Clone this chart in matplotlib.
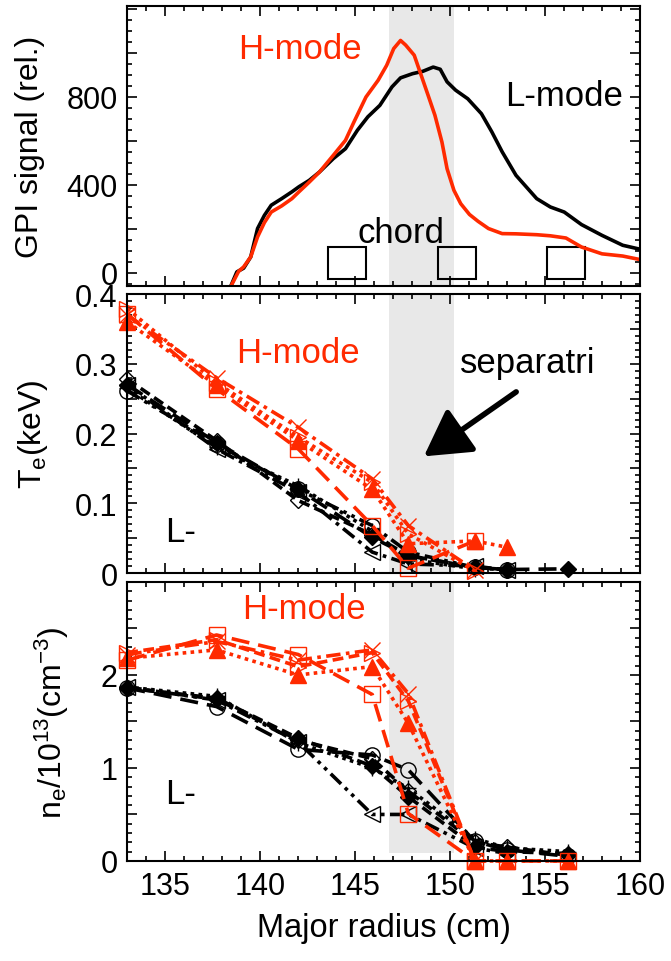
import matplotlib
matplotlib.use('Agg')
import matplotlib.pyplot as plt
from matplotlib.patches import Rectangle
from matplotlib.ticker import MultipleLocator, FuncFormatter

plt.rcParams['font.family'] = ['Liberation Sans', 'DejaVu Sans']
plt.rcParams['mathtext.default'] = 'regular'

RED = '#ff2a00'

# GPI signal profiles (top panel)
gpi_l_r = [138.40, 138.77, 139.13, 139.50, 139.86, 140.22, 140.58, 141.13, 141.67, 142.04,
           142.58, 143.12, 143.85, 144.49, 145.12, 145.67, 146.30, 146.94, 147.39, 148.02,
           148.57, 149.11, 149.48, 149.84, 150.29, 150.93, 151.65, 152.20, 152.74, 153.47,
           154.56, 155.28, 156.01, 156.92, 158.00, 159.09, 160.00]
gpi_l = [-70, 5, 22, 73, 202, 262, 308, 338, 369, 392,
         421, 459, 520, 565, 649, 710, 762, 846, 887, 906,
         917, 936, 926, 869, 831, 792, 724, 641, 551, 444,
         338, 300, 277, 220, 171, 126, 108]
gpi_h_r = [138.40, 138.86, 139.13, 139.50, 139.86, 140.22, 140.58, 141.13, 141.67, 142.04,
           142.58, 143.12, 143.85, 144.49, 144.94, 145.57, 146.21, 146.66, 147.03, 147.39,
           147.66, 148.11, 148.48, 148.84, 149.20, 149.57, 149.84, 150.20, 150.56, 151.02,
           151.47, 152.02, 152.74, 153.47, 154.56, 155.28, 156.10, 156.92, 158.00, 159.09,
           160.00]
gpi_h = [-70, 7, 28, 73, 164, 229, 277, 305, 338, 369,
         413, 459, 535, 603, 687, 800, 876, 944, 1020, 1057,
         1036, 990, 898, 808, 717, 595, 474, 376, 315, 266,
         235, 202, 179, 178, 174, 169, 159, 118, 87, 77,
         61]
chord_r = [144.55, 150.35, 156.10]

# Thomson scattering radii
r_pts = [133.0, 137.7, 142.0, 145.9, 147.8, 151.3, 153.0, 156.2]

# Te (keV)
te_h_sq = [0.371, 0.264, 0.178, 0.068, 0.007, 0.046]
te_h_rtri = [0.379, 0.273, 0.195, 0.130, 0.056, 0.003]
te_h_tri = [0.360, 0.269, 0.190, 0.120, 0.042, 0.046, 0.037]
te_h_x = [0.370, 0.280, 0.209, 0.135, 0.068, 0.004]
te_l_circ = [0.261, 0.185, 0.120, 0.068, 0.030, 0.008, 0.004]
te_l_dia = [0.278, 0.190, 0.104, 0.055, 0.025, 0.008, 0.005]
te_l_ltri = [0.270, 0.178, 0.116, 0.030, 0.013, 0.010, 0.004]
te_l_fdia = [0.270, 0.187, 0.120, 0.051, 0.025, 0.008, 0.005, 0.006]
te_l_plus = [0.265, 0.180, 0.125, 0.060, 0.020, 0.006]

# ne (1e13 cm^-3)
ne_h_sq = [2.16, 2.43, 2.22, 1.79, 0.51, 0.0, 0.0, 0.0]
ne_h_rtri = [2.24, 2.38, 2.09, 2.24, 1.72, 0.0]
ne_h_x = [2.22, 2.36, 2.16, 2.27, 1.80, 0.0]
ne_h_tri = [2.18, 2.27, 2.00, 2.09, 1.48, 0.0, 0.0, 0.0]
ne_l_circ = [1.86, 1.66, 1.20, 1.14, 0.98, 0.21, 0.12, 0.05]
ne_l_ltri = [1.87, 1.73, 1.28, 0.50, 0.50, 0.14, 0.08]
ne_l_fdia = [1.86, 1.75, 1.32, 1.02, 0.69, 0.15, 0.10, 0.08]
ne_l_plus = [1.87, 1.77, 1.27, 1.00, 0.78, 0.24, 0.14, 0.10]
ne_l_dia = [1.86, 1.74, 1.30, 1.10, 0.75, 0.20, 0.15, 0.06]

sep_lo, sep_hi = 146.8, 150.2

LONG = (0, (5, 2.5))
DASH = (0, (3, 1.5))
DOT = (0, (1, 1.2))
DASHDOT = (0, (4, 1.5, 1, 1.5))
DASHDOTDOT = (0, (4, 1.5, 1, 1.5, 1, 1.5))

fig = plt.figure(figsize=(6.71, 9.62), dpi=100)
left, width = 0.1897, 0.7641
ax1 = fig.add_axes([left, 0.7017, width, 0.2911])
ax2 = fig.add_axes([left, 0.4033, width, 0.2900])
ax3 = fig.add_axes([left, 0.1040, width, 0.2900])


def style_axis(ax, ymaj, ymin, ylab_every, fmt, ylab_max):
    ax.set_xlim(133, 160)
    ax.xaxis.set_major_locator(MultipleLocator(5))
    ax.xaxis.set_minor_locator(MultipleLocator(1))
    ax.yaxis.set_major_locator(MultipleLocator(ymaj))
    ax.yaxis.set_minor_locator(MultipleLocator(ymin))

    def f(v, pos):
        k = round(v / ylab_every)
        if abs(v - k * ylab_every) > 1e-9 or v > ylab_max + 1e-9:
            return ''
        return fmt(v)
    ax.yaxis.set_major_formatter(FuncFormatter(f))
    ax.tick_params(which='both', direction='in', top=True, right=True, width=1.2,
                   labelsize=22, pad=7)
    ax.tick_params(which='major', length=7)
    ax.tick_params(which='minor', length=3.5)
    for s in ax.spines.values():
        s.set_linewidth(1.5)


def draw_profiles(ax, series, color):
    for vals, m, ls, fc in series:
        ax.plot(r_pts[:len(vals)], vals, color=color, ls=ls, lw=2.6, marker=m,
                ms=8 if m == 'D' else 11, mfc=fc, mec=color, mew=1.0, clip_on=False)


# top panel: GPI
ax1.axvspan(sep_lo, sep_hi, color='#e8e8e8', lw=0, zorder=0)
ax1.plot(gpi_l_r, gpi_l, color='k', lw=2.6)
ax1.plot(gpi_h_r, gpi_h, color=RED, lw=2.6)
for c in chord_r:
    ax1.add_patch(Rectangle((c - 1.0, -27), 2.0, 146, fill=False, ec='k', lw=1.5))
ax1.text(147.4, 183, 'chord', fontsize=25, ha='center', va='center')
ax1.text(142.1, 1020, 'H-mode', fontsize=25, color=RED, ha='center', va='center')
ax1.text(156.0, 808, 'L-mode', fontsize=25, ha='center', va='center')
ax1.set_ylim(-59, 1214)
style_axis(ax1, 200, 50, 400, lambda v: '%d' % v, 800)
ax1.set_xticklabels([])
ax1.set_ylabel('GPI signal (rel.)', fontsize=23)
ax1.yaxis.set_label_coords(-0.16, 0.5)

# Te panel
ax2.axvspan(sep_lo, sep_hi, color='#e8e8e8', lw=0, zorder=0)
draw_profiles(ax2, [(te_l_circ, 'o', DASHDOTDOT, 'none'), (te_l_dia, 'D', DASH, 'none'),
                    (te_l_ltri, '<', DASHDOT, 'none'), (te_l_fdia, 'D', LONG, 'k'),
                    (te_l_plus, '+', DOT, 'none')], 'k')
draw_profiles(ax2, [(te_h_sq, 's', LONG, 'none'), (te_h_rtri, '>', DOT, 'none'),
                    (te_h_tri, '^', DOT, RED), (te_h_x, 'x', DASHDOT, 'none')], RED)
ax2.text(142.0, 0.316, 'H-mode', fontsize=25, color=RED, ha='center', va='center')
ax2.text(154.1, 0.302, 'separatri', fontsize=25, ha='center', va='center')
ax2.text(135.8, 0.060, 'L-', fontsize=25, ha='center', va='center')
ax2.annotate('', xy=(148.5, 0.165), xytext=(153.6, 0.262),
             arrowprops=dict(arrowstyle='-|>,head_length=1.4,head_width=0.8',
                             lw=4, color='k', mutation_scale=20))
ax2.set_ylim(0, 0.4)
style_axis(ax2, 0.05, 0.01, 0.1, lambda v: '0' if abs(v) < 1e-9 else '%.1f' % v, 0.4)
ax2.set_xticklabels([])
ax2.set_ylabel('T$_e$(keV)', fontsize=23)
ax2.yaxis.set_label_coords(-0.15, 0.5)

# ne panel
ax3.axvspan(sep_lo, sep_hi, ymin=0.028, color='#e8e8e8', lw=0, zorder=0)
draw_profiles(ax3, [(ne_l_circ, 'o', LONG, 'none'), (ne_l_dia, 'D', DASH, 'none'),
                    (ne_l_ltri, '<', DASHDOTDOT, 'none'), (ne_l_fdia, 'D', DASH, 'k'),
                    (ne_l_plus, '+', DOT, 'none')], 'k')
draw_profiles(ax3, [(ne_h_sq, 's', LONG, 'none'), (ne_h_rtri, '>', DASH, 'none'),
                    (ne_h_tri, '^', DOT, RED), (ne_h_x, 'x', DASHDOT, 'none')], RED)
ax3.text(142.3, 2.72, 'H-mode', fontsize=25, color=RED, ha='center', va='center')
ax3.text(135.8, 0.73, 'L-', fontsize=25, ha='center', va='center')
ax3.set_ylim(0, 3)
style_axis(ax3, 0.5, 0.1, 1, lambda v: '%d' % v, 2)
ax3.set_ylabel('n$_e$/10$^{13}$(cm$^{-3}$)', fontsize=23)
ax3.yaxis.set_label_coords(-0.11, 0.5)
ax3.set_xlabel('Major radius (cm)', fontsize=23.5, labelpad=8)

fig.savefig('out.png', dpi=100)
